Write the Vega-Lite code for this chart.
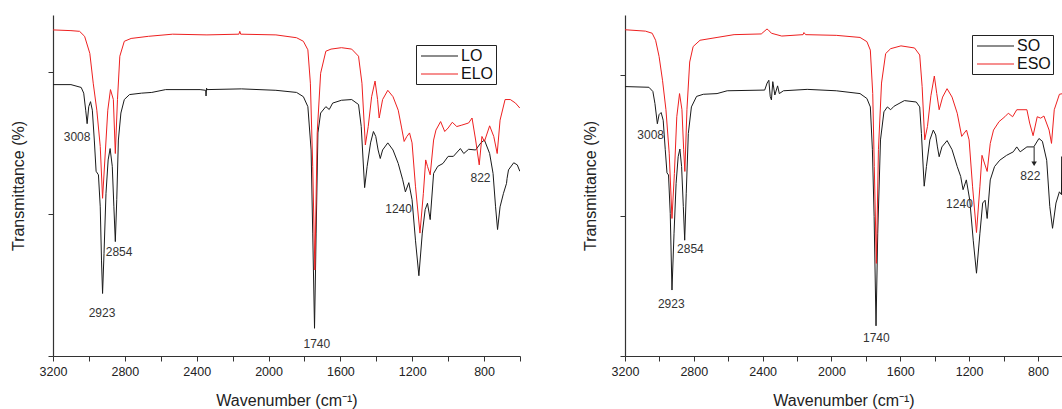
{
"$schema": "https://vega.github.io/schema/vega-lite/v6.json",
"padding": {"left": 10, "top": 15, "right": 0, "bottom": 0},
"background": "white",
"spacing": 61,
"resolve": {"scale": {"color": "independent", "x": "independent", "y": "independent"}, "legend": {"color": "independent"}},
"config": {
  "view": {"stroke": null},
  "font": "Liberation Sans",
  "axis": {"domainColor": "#333", "tickColor": "#333", "labelColor": "#222", "titleColor": "#222", "labelFont": "Liberation Sans", "titleFont": "Liberation Sans", "labelFontSize": 12.5, "titleFontSize": 16, "titleFontWeight": "normal", "grid": false, "tickSize": 5, "domainWidth": 1.2, "tickWidth": 1, "labelPadding": 4, "labelFlush": false, "labelOverlap": false, "labelBound": false},
  "legend": {"strokeColor": "#222", "padding": 2, "labelFontSize": 16, "labelFont": "Liberation Sans", "labelColor": "#111", "symbolType": "M-0.75,0H3.875", "symbolSize": 256, "symbolStrokeWidth": 1.2, "rowPadding": 1, "labelOffset": 25, "fillColor": "white"}
},
"datasets": {
  "left": [
{"s":"LO","w":3200,"t":38.2},{"s":"LO","w":3100,"t":38.2},{"s":"LO","w":3043,"t":37.8},{"s":"LO","w":3029,"t":37.0},{"s":"LO","w":3018,"t":34.6},{"s":"LO","w":3010,"t":32.7},{"s":"LO","w":3001,"t":35.1},{"s":"LO","w":2991,"t":35.8},{"s":"LO","w":2981,"t":34.6},{"s":"LO","w":2970,"t":30.4},{"s":"LO","w":2960,"t":26.0},{"s":"LO","w":2947,"t":25.5},{"s":"LO","w":2937,"t":21.0},{"s":"LO","w":2930,"t":13.5},{"s":"LO","w":2924,"t":8.8},{"s":"LO","w":2916,"t":14.4},{"s":"LO","w":2905,"t":22.9},{"s":"LO","w":2893,"t":27.6},{"s":"LO","w":2882,"t":29.2},{"s":"LO","w":2870,"t":26.7},{"s":"LO","w":2861,"t":21.0},{"s":"LO","w":2853,"t":16.1},{"s":"LO","w":2845,"t":22.0},{"s":"LO","w":2836,"t":30.4},{"s":"LO","w":2822,"t":34.2},{"s":"LO","w":2803,"t":36.1},{"s":"LO","w":2774,"t":36.8},{"s":"LO","w":2707,"t":37.0},{"s":"LO","w":2650,"t":37.1},{"s":"LO","w":2573,"t":37.5},{"s":"LO","w":2381,"t":37.5},{"s":"LO","w":2350,"t":37.4},{"s":"LO","w":2348,"t":36.6},{"s":"LO","w":2345,"t":37.7},{"s":"LO","w":2343,"t":37.5},{"s":"LO","w":2151,"t":37.6},{"s":"LO","w":1959,"t":37.4},{"s":"LO","w":1844,"t":37.1},{"s":"LO","w":1806,"t":36.5},{"s":"LO","w":1781,"t":35.1},{"s":"LO","w":1763,"t":29.0},{"s":"LO","w":1754,"t":17.3},{"s":"LO","w":1744,"t":3.9},{"s":"LO","w":1735,"t":17.3},{"s":"LO","w":1725,"t":31.4},{"s":"LO","w":1710,"t":34.2},{"s":"LO","w":1681,"t":35.1},{"s":"LO","w":1662,"t":34.7},{"s":"LO","w":1643,"t":35.6},{"s":"LO","w":1594,"t":36.0},{"s":"LO","w":1537,"t":36.1},{"s":"LO","w":1499,"t":35.4},{"s":"LO","w":1484,"t":32.3},{"s":"LO","w":1465,"t":23.7},{"s":"LO","w":1451,"t":26.7},{"s":"LO","w":1432,"t":30.0},{"s":"LO","w":1416,"t":31.6},{"s":"LO","w":1403,"t":30.9},{"s":"LO","w":1390,"t":29.0},{"s":"LO","w":1378,"t":27.8},{"s":"LO","w":1365,"t":29.0},{"s":"LO","w":1336,"t":30.0},{"s":"LO","w":1307,"t":29.0},{"s":"LO","w":1278,"t":27.1},{"s":"LO","w":1253,"t":24.8},{"s":"LO","w":1238,"t":23.1},{"s":"LO","w":1219,"t":24.4},{"s":"LO","w":1201,"t":22.0},{"s":"LO","w":1182,"t":16.3},{"s":"LO","w":1163,"t":11.3},{"s":"LO","w":1144,"t":17.3},{"s":"LO","w":1128,"t":20.6},{"s":"LO","w":1115,"t":21.5},{"s":"LO","w":1100,"t":19.2},{"s":"LO","w":1081,"t":25.7},{"s":"LO","w":1058,"t":26.7},{"s":"LO","w":1029,"t":27.1},{"s":"LO","w":1000,"t":28.1},{"s":"LO","w":971,"t":28.1},{"s":"LO","w":932,"t":29.2},{"s":"LO","w":913,"t":28.5},{"s":"LO","w":886,"t":29.1},{"s":"LO","w":847,"t":29.0},{"s":"LO","w":818,"t":30.0},{"s":"LO","w":798,"t":30.4},{"s":"LO","w":769,"t":28.5},{"s":"LO","w":750,"t":25.7},{"s":"LO","w":736,"t":21.0},{"s":"LO","w":725,"t":17.8},{"s":"LO","w":711,"t":21.0},{"s":"LO","w":692,"t":22.9},{"s":"LO","w":675,"t":24.3},{"s":"LO","w":672,"t":25.0},{"s":"LO","w":664,"t":26.2},{"s":"LO","w":635,"t":27.2},{"s":"LO","w":615,"t":26.9},{"s":"LO","w":601,"t":26.0},
{"s":"ELO","w":3200,"t":45.9},{"s":"ELO","w":3100,"t":45.8},{"s":"ELO","w":3052,"t":45.7},{"s":"ELO","w":3024,"t":45.0},{"s":"ELO","w":2995,"t":42.6},{"s":"ELO","w":2976,"t":38.4},{"s":"ELO","w":2956,"t":34.6},{"s":"ELO","w":2937,"t":29.5},{"s":"ELO","w":2924,"t":22.2},{"s":"ELO","w":2908,"t":29.0},{"s":"ELO","w":2895,"t":34.6},{"s":"ELO","w":2880,"t":37.5},{"s":"ELO","w":2864,"t":36.1},{"s":"ELO","w":2853,"t":28.5},{"s":"ELO","w":2841,"t":36.1},{"s":"ELO","w":2828,"t":42.2},{"s":"ELO","w":2803,"t":44.3},{"s":"ELO","w":2765,"t":44.7},{"s":"ELO","w":2669,"t":45.0},{"s":"ELO","w":2534,"t":45.3},{"s":"ELO","w":2343,"t":45.2},{"s":"ELO","w":2165,"t":45.3},{"s":"ELO","w":2160,"t":45.7},{"s":"ELO","w":2155,"t":45.3},{"s":"ELO","w":1959,"t":45.2},{"s":"ELO","w":1844,"t":44.8},{"s":"ELO","w":1806,"t":44.3},{"s":"ELO","w":1781,"t":43.1},{"s":"ELO","w":1767,"t":38.4},{"s":"ELO","w":1754,"t":26.7},{"s":"ELO","w":1742,"t":12.1},{"s":"ELO","w":1729,"t":31.4},{"s":"ELO","w":1710,"t":39.8},{"s":"ELO","w":1681,"t":42.9},{"s":"ELO","w":1652,"t":43.2},{"s":"ELO","w":1594,"t":43.4},{"s":"ELO","w":1537,"t":43.2},{"s":"ELO","w":1499,"t":42.2},{"s":"ELO","w":1480,"t":38.4},{"s":"ELO","w":1461,"t":29.7},{"s":"ELO","w":1445,"t":32.3},{"s":"ELO","w":1426,"t":36.5},{"s":"ELO","w":1407,"t":38.7},{"s":"ELO","w":1393,"t":36.1},{"s":"ELO","w":1384,"t":33.5},{"s":"ELO","w":1365,"t":36.1},{"s":"ELO","w":1336,"t":37.4},{"s":"ELO","w":1307,"t":36.5},{"s":"ELO","w":1278,"t":34.6},{"s":"ELO","w":1259,"t":32.1},{"s":"ELO","w":1245,"t":30.2},{"s":"ELO","w":1230,"t":30.9},{"s":"ELO","w":1215,"t":31.4},{"s":"ELO","w":1201,"t":30.0},{"s":"ELO","w":1182,"t":23.9},{"s":"ELO","w":1157,"t":17.3},{"s":"ELO","w":1138,"t":22.9},{"s":"ELO","w":1125,"t":27.6},{"s":"ELO","w":1115,"t":26.7},{"s":"ELO","w":1100,"t":25.5},{"s":"ELO","w":1081,"t":30.4},{"s":"ELO","w":1068,"t":31.8},{"s":"ELO","w":1042,"t":33.0},{"s":"ELO","w":1019,"t":31.6},{"s":"ELO","w":1000,"t":32.1},{"s":"ELO","w":977,"t":32.9},{"s":"ELO","w":952,"t":32.3},{"s":"ELO","w":924,"t":32.5},{"s":"ELO","w":886,"t":32.8},{"s":"ELO","w":867,"t":33.5},{"s":"ELO","w":847,"t":30.4},{"s":"ELO","w":827,"t":26.9},{"s":"ELO","w":812,"t":30.9},{"s":"ELO","w":798,"t":30.2},{"s":"ELO","w":769,"t":32.4},{"s":"ELO","w":746,"t":30.9},{"s":"ELO","w":727,"t":28.5},{"s":"ELO","w":711,"t":33.2},{"s":"ELO","w":683,"t":36.1},{"s":"ELO","w":654,"t":36.1},{"s":"ELO","w":625,"t":35.6},{"s":"ELO","w":601,"t":34.9}
  ],
  "right": [
{"s":"SO","w":3200,"t":38.4},{"s":"SO","w":3061,"t":38.3},{"s":"SO","w":3038,"t":37.7},{"s":"SO","w":3026,"t":36.0},{"s":"SO","w":3012,"t":33.1},{"s":"SO","w":3002,"t":34.4},{"s":"SO","w":2990,"t":34.7},{"s":"SO","w":2978,"t":33.6},{"s":"SO","w":2966,"t":29.4},{"s":"SO","w":2956,"t":26.1},{"s":"SO","w":2947,"t":25.8},{"s":"SO","w":2937,"t":20.3},{"s":"SO","w":2927,"t":9.4},{"s":"SO","w":2915,"t":17.5},{"s":"SO","w":2903,"t":24.6},{"s":"SO","w":2891,"t":28.4},{"s":"SO","w":2881,"t":29.5},{"s":"SO","w":2871,"t":27.0},{"s":"SO","w":2861,"t":21.3},{"s":"SO","w":2853,"t":16.5},{"s":"SO","w":2844,"t":23.2},{"s":"SO","w":2832,"t":31.7},{"s":"SO","w":2814,"t":35.5},{"s":"SO","w":2784,"t":37.0},{"s":"SO","w":2745,"t":37.3},{"s":"SO","w":2665,"t":37.4},{"s":"SO","w":2606,"t":37.8},{"s":"SO","w":2388,"t":37.9},{"s":"SO","w":2374,"t":38.9},{"s":"SO","w":2364,"t":39.3},{"s":"SO","w":2356,"t":37.0},{"s":"SO","w":2349,"t":36.5},{"s":"SO","w":2341,"t":39.1},{"s":"SO","w":2329,"t":37.2},{"s":"SO","w":2313,"t":38.5},{"s":"SO","w":2303,"t":37.4},{"s":"SO","w":2279,"t":37.8},{"s":"SO","w":2141,"t":38.0},{"s":"SO","w":1972,"t":37.8},{"s":"SO","w":1834,"t":37.4},{"s":"SO","w":1794,"t":36.7},{"s":"SO","w":1774,"t":35.5},{"s":"SO","w":1762,"t":29.4},{"s":"SO","w":1752,"t":19.9},{"s":"SO","w":1741,"t":4.3},{"s":"SO","w":1731,"t":17.5},{"s":"SO","w":1715,"t":30.8},{"s":"SO","w":1695,"t":34.8},{"s":"SO","w":1675,"t":35.5},{"s":"SO","w":1656,"t":35.1},{"s":"SO","w":1636,"t":35.6},{"s":"SO","w":1576,"t":36.4},{"s":"SO","w":1507,"t":36.2},{"s":"SO","w":1487,"t":35.5},{"s":"SO","w":1477,"t":31.7},{"s":"SO","w":1461,"t":24.2},{"s":"SO","w":1448,"t":27.0},{"s":"SO","w":1428,"t":30.8},{"s":"SO","w":1408,"t":32.2},{"s":"SO","w":1394,"t":31.5},{"s":"SO","w":1384,"t":29.8},{"s":"SO","w":1374,"t":28.4},{"s":"SO","w":1358,"t":29.8},{"s":"SO","w":1328,"t":30.7},{"s":"SO","w":1299,"t":29.4},{"s":"SO","w":1269,"t":27.0},{"s":"SO","w":1249,"t":25.6},{"s":"SO","w":1235,"t":23.7},{"s":"SO","w":1216,"t":25.1},{"s":"SO","w":1196,"t":22.2},{"s":"SO","w":1176,"t":16.5},{"s":"SO","w":1157,"t":11.8},{"s":"SO","w":1137,"t":17.5},{"s":"SO","w":1121,"t":21.8},{"s":"SO","w":1107,"t":22.2},{"s":"SO","w":1095,"t":19.6},{"s":"SO","w":1077,"t":25.1},{"s":"SO","w":1052,"t":27.0},{"s":"SO","w":1022,"t":27.9},{"s":"SO","w":982,"t":28.6},{"s":"SO","w":943,"t":29.1},{"s":"SO","w":923,"t":29.8},{"s":"SO","w":903,"t":29.1},{"s":"SO","w":864,"t":29.8},{"s":"SO","w":824,"t":29.8},{"s":"SO","w":794,"t":31.0},{"s":"SO","w":774,"t":30.6},{"s":"SO","w":749,"t":27.9},{"s":"SO","w":731,"t":21.3},{"s":"SO","w":715,"t":18.2},{"s":"SO","w":695,"t":21.8},{"s":"SO","w":675,"t":23.4},{"s":"SO","w":663,"t":23.0},{"s":"SO","w":662,"t":28.4},{"s":"SO","w":655,"t":28.2},
{"s":"ESO","w":3200,"t":46.5},{"s":"ESO","w":3081,"t":46.3},{"s":"ESO","w":3042,"t":46.0},{"s":"ESO","w":3022,"t":45.0},{"s":"ESO","w":3002,"t":42.7},{"s":"ESO","w":2982,"t":39.3},{"s":"ESO","w":2962,"t":35.1},{"s":"ESO","w":2943,"t":28.9},{"s":"ESO","w":2927,"t":19.6},{"s":"ESO","w":2913,"t":26.0},{"s":"ESO","w":2899,"t":34.1},{"s":"ESO","w":2883,"t":37.4},{"s":"ESO","w":2869,"t":35.1},{"s":"ESO","w":2859,"t":29.4},{"s":"ESO","w":2852,"t":26.3},{"s":"ESO","w":2840,"t":35.1},{"s":"ESO","w":2824,"t":41.9},{"s":"ESO","w":2804,"t":44.1},{"s":"ESO","w":2764,"t":45.0},{"s":"ESO","w":2665,"t":45.4},{"s":"ESO","w":2566,"t":45.8},{"s":"ESO","w":2408,"t":45.9},{"s":"ESO","w":2375,"t":46.6},{"s":"ESO","w":2368,"t":46.5},{"s":"ESO","w":2349,"t":46.0},{"s":"ESO","w":2289,"t":45.6},{"s":"ESO","w":2165,"t":45.8},{"s":"ESO","w":2160,"t":46.1},{"s":"ESO","w":2150,"t":45.8},{"s":"ESO","w":1972,"t":45.7},{"s":"ESO","w":1834,"t":45.4},{"s":"ESO","w":1794,"t":44.8},{"s":"ESO","w":1774,"t":43.6},{"s":"ESO","w":1760,"t":37.4},{"s":"ESO","w":1751,"t":27.0},{"s":"ESO","w":1739,"t":13.2},{"s":"ESO","w":1727,"t":29.4},{"s":"ESO","w":1709,"t":38.9},{"s":"ESO","w":1685,"t":43.1},{"s":"ESO","w":1656,"t":43.8},{"s":"ESO","w":1596,"t":44.2},{"s":"ESO","w":1517,"t":43.9},{"s":"ESO","w":1487,"t":42.9},{"s":"ESO","w":1473,"t":38.4},{"s":"ESO","w":1458,"t":30.8},{"s":"ESO","w":1442,"t":32.7},{"s":"ESO","w":1422,"t":37.1},{"s":"ESO","w":1402,"t":39.9},{"s":"ESO","w":1388,"t":37.4},{"s":"ESO","w":1374,"t":35.1},{"s":"ESO","w":1354,"t":36.9},{"s":"ESO","w":1328,"t":38.1},{"s":"ESO","w":1299,"t":36.9},{"s":"ESO","w":1269,"t":34.6},{"s":"ESO","w":1243,"t":31.3},{"s":"ESO","w":1215,"t":32.2},{"s":"ESO","w":1200,"t":30.8},{"s":"ESO","w":1180,"t":24.2},{"s":"ESO","w":1157,"t":17.6},{"s":"ESO","w":1137,"t":24.2},{"s":"ESO","w":1125,"t":28.6},{"s":"ESO","w":1111,"t":27.5},{"s":"ESO","w":1095,"t":26.3},{"s":"ESO","w":1077,"t":30.3},{"s":"ESO","w":1058,"t":32.2},{"s":"ESO","w":1026,"t":33.4},{"s":"ESO","w":992,"t":34.1},{"s":"ESO","w":972,"t":34.6},{"s":"ESO","w":947,"t":34.1},{"s":"ESO","w":923,"t":35.1},{"s":"ESO","w":864,"t":35.1},{"s":"ESO","w":848,"t":33.2},{"s":"ESO","w":828,"t":31.4},{"s":"ESO","w":804,"t":34.1},{"s":"ESO","w":784,"t":33.9},{"s":"ESO","w":765,"t":34.2},{"s":"ESO","w":735,"t":32.2},{"s":"ESO","w":721,"t":30.3},{"s":"ESO","w":705,"t":35.1},{"s":"ESO","w":675,"t":37.3},{"s":"ESO","w":655,"t":37.4}
  ],
  "leftAnn": [
{"label":"3008","w":3066,"t":30.8},{"label":"2923","w":2927,"t":6.1},{"label":"2854","w":2832,"t":14.7},{"label":"1740","w":1731,"t":1.7},{"label":"1240","w":1276,"t":20.7},{"label":"822","w":820,"t":25.0}
  ],
  "rightAnn": [
{"label":"3008","w":3051,"t":31.5},{"label":"2923","w":2931,"t":7.4},{"label":"2854","w":2820,"t":15.2},{"label":"1740","w":1739,"t":2.5},{"label":"1240","w":1256,"t":21.6},{"label":"822","w":844,"t":25.7}
  ],
  "arrow": [{"w":822,"t1":29.8,"t2":27.4}]
},
"hconcat": [
  {
    "width": 467, "height": 341,
    "encoding": {
      "x": {"field": "w", "type": "quantitative", "scale": {"domain": [600, 3200], "reverse": true, "nice": false, "zero": false},
            "axis": {"title": "Wavenumber (cm⁻¹)", "values": [3200,3000,2800,2600,2400,2200,2000,1800,1600,1400,1200,1000,800,600], "format": "d", "labelExpr": "(datum.value / 400) == floor(datum.value / 400) && datum.value > 700 ? datum.label : ''", "titlePadding": 15}},
      "y": {"field": "t", "type": "quantitative", "scale": {"domain": [0, 48], "nice": false, "zero": false},
            "axis": {"title": "Transmittance (%)", "labels": false, "values": [0, 20, 40], "titlePadding": 21}}
    },
    "layer": [
      {
        "data": {"name": "left"},
        "mark": {"type": "line", "strokeWidth": 1, "clip": true},
        "encoding": {
          "color": {"field": "s", "type": "nominal", "scale": {"domain": ["LO", "ELO"], "range": ["#1a1a1a", "#ee2020"]},
                    "legend": {"title": null, "orient": "none", "legendX": 363, "legendY": 30}}
        }
      },
      {
        "data": {"name": "leftAnn"},
        "mark": {"type": "text", "fontSize": 12, "color": "#333", "baseline": "middle", "align": "center", "font": "Liberation Sans"},
        "encoding": {
          "text": {"field": "label"}
        }
      }
    ]
  },
  {
    "width": 437, "height": 341,
    "encoding": {
      "x": {"field": "w", "type": "quantitative", "scale": {"domain": [660, 3200], "reverse": true, "nice": false, "zero": false},
            "axis": {"title": "Wavenumber (cm⁻¹)", "values": [3200,3000,2800,2600,2400,2200,2000,1800,1600,1400,1200,1000,800], "format": "d", "labelExpr": "(datum.value / 400) == floor(datum.value / 400) ? datum.label : ''", "titlePadding": 15}}
    },
    "layer": [
      {
        "data": {"name": "right"},
        "mark": {"type": "line", "strokeWidth": 1, "clip": true},
        "encoding": {
          "y": {"field": "t", "type": "quantitative", "scale": {"domain": [0, 48.6], "nice": false, "zero": false},
                "axis": {"title": "Transmittance (%)", "labels": false, "values": [0, 20, 40], "titlePadding": 21}},
          "color": {"field": "s", "type": "nominal", "scale": {"domain": ["SO", "ESO"], "range": ["#1a1a1a", "#ee2020"]},
                    "legend": {"title": null, "orient": "none", "legendX": 347, "legendY": 20}}
        }
      },
      {
        "data": {"name": "rightAnn"},
        "mark": {"type": "text", "fontSize": 12, "color": "#333", "baseline": "middle", "align": "center", "font": "Liberation Sans"},
        "encoding": {
          "y": {"field": "t", "type": "quantitative"},
          "text": {"field": "label"}
        }
      },
      {
        "data": {"name": "arrow"},
        "mark": {"type": "rule", "color": "#222", "strokeWidth": 1},
        "encoding": {
          "y": {"field": "t1", "type": "quantitative"},
          "y2": {"field": "t2"}
        }
      },
      {
        "data": {"name": "arrow"},
        "mark": {"type": "point", "shape": "triangle-down", "filled": true, "color": "#222", "size": 30, "opacity": 1},
        "encoding": {
          "y": {"field": "t2", "type": "quantitative"}
        }
      }
    ]
  }
]
}
